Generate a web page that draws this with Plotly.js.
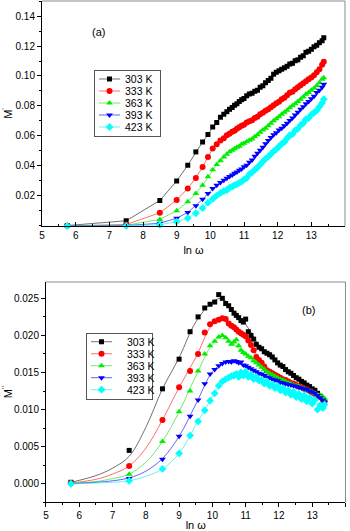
<!DOCTYPE html>
<html>
<head>
<meta charset="utf-8">
<script src="https://cdn.plot.ly/plotly-3.0.1.min.js"></script>
<style>html,body{margin:0;padding:0;background:#fff;}#chart{width:350px;height:531px;}</style>
</head>
<body>
<div id="chart"></div>
<script>
// ---------- data ----------
const seriesNames = ['303 K', '333 K', '363 K', '393 K', '423 K'];
const lnw = [5.75, 7.5, 8.5, 9.0, 9.33, 9.57, 9.77, 9.93, 10.07, 10.19,
  10.3, 10.4, 10.49, 10.57, 10.65, 10.72, 10.79, 10.86, 10.93, 11.0,
  11.08, 11.16, 11.24, 11.32, 11.4, 11.48, 11.56, 11.64, 11.72, 11.8,
  11.88, 11.96, 12.04, 12.12, 12.2, 12.28, 12.36, 12.44, 12.52, 12.6,
  12.68, 12.76, 12.84, 12.92, 13.0, 13.08, 13.16, 13.24, 13.32, 13.37];

// (a) M'
const mp303 = [0.0003, 0.0035, 0.017, 0.030, 0.0405, 0.0494, 0.056, 0.061, 0.066, 0.069,
  0.0725, 0.0745, 0.0762, 0.0778, 0.079, 0.0805, 0.0815, 0.083, 0.0842, 0.085,
  0.0868, 0.088, 0.0885, 0.0898, 0.0905, 0.0925, 0.0935, 0.0955, 0.097, 0.0985,
  0.1012, 0.1025, 0.1035, 0.1045, 0.1055, 0.1065, 0.108, 0.1085, 0.1102, 0.1108,
  0.1125, 0.1135, 0.1158, 0.1165, 0.1178, 0.1195, 0.1205, 0.1222, 0.1235, 0.1255];
const mp333 = [0.0001, 0.001, 0.0088, 0.0173, 0.025, 0.032, 0.0394, 0.046, 0.0516, 0.0545,
  0.057, 0.0585, 0.0605, 0.0615, 0.0628, 0.0635, 0.0648, 0.0658, 0.0668, 0.0675,
  0.069, 0.0698, 0.0705, 0.072, 0.0728, 0.0745, 0.0755, 0.0768, 0.0778, 0.0792,
  0.0805, 0.0818, 0.0828, 0.0845, 0.0855, 0.0872, 0.0888, 0.0895, 0.0912, 0.0925,
  0.0938, 0.0952, 0.0965, 0.0978, 0.099, 0.1005, 0.1025, 0.1045, 0.1075, 0.1095];
const mp363 = [0.0001, 0.0005, 0.0044, 0.0102, 0.0162, 0.0217, 0.0272, 0.0328, 0.0375, 0.041,
  0.0435, 0.046, 0.0478, 0.0495, 0.0505, 0.0515, 0.0525, 0.0532, 0.0545, 0.0552,
  0.0562, 0.0572, 0.058, 0.0595, 0.0608, 0.0625, 0.064, 0.0652, 0.0668, 0.0685,
  0.0702, 0.0715, 0.0728, 0.0745, 0.0758, 0.0772, 0.0789, 0.0802, 0.0815, 0.083,
  0.0845, 0.086, 0.0878, 0.089, 0.0905, 0.0918, 0.0935, 0.0955, 0.0978, 0.0988];
const mp393 = [0.0, 0.0003, 0.0018, 0.0052, 0.009, 0.0135, 0.0178, 0.0217, 0.025, 0.0272,
  0.029, 0.0305, 0.0318, 0.033, 0.034, 0.0352, 0.036, 0.0372, 0.038, 0.0395,
  0.0405, 0.0425, 0.044, 0.0465, 0.0485, 0.0505, 0.0525, 0.0548, 0.057, 0.059,
  0.0608, 0.0622, 0.064, 0.0652, 0.0668, 0.0685, 0.0704, 0.072, 0.074, 0.0758,
  0.0778, 0.0795, 0.0815, 0.083, 0.0848, 0.0865, 0.089, 0.0905, 0.0925, 0.0945];
const mp423 = [0.0, 0.0001, 0.0008, 0.0029, 0.0052, 0.0085, 0.012, 0.0155, 0.018, 0.0203,
  0.022, 0.0232, 0.024, 0.0255, 0.0262, 0.0272, 0.0278, 0.0288, 0.0296, 0.031,
  0.032, 0.0345, 0.0358, 0.0375, 0.039, 0.041, 0.043, 0.0448, 0.0462, 0.048,
  0.0498, 0.0512, 0.053, 0.0548, 0.056, 0.0585, 0.0605, 0.0612, 0.0638, 0.0648,
  0.0672, 0.0685, 0.0712, 0.072, 0.0742, 0.0755, 0.077, 0.0795, 0.082, 0.0845];

// (b) M''
const mpp303 = [0.0002, 0.0045, 0.0128, 0.0168, 0.0205, 0.0225, 0.0237, 0.0242, 0.0245, 0.0255,
  0.0250, 0.0243, 0.0240, 0.0235, 0.0230, 0.0227, 0.0224, 0.0220, 0.0218, 0.0222,
  0.0205, 0.0200, 0.0195, 0.0188, 0.0184, 0.0182, 0.0178, 0.0176, 0.0174, 0.0171,
  0.0167, 0.0163, 0.0160, 0.0158, 0.0154, 0.0151, 0.0149, 0.0146, 0.0143, 0.0141,
  0.0138, 0.0136, 0.0133, 0.0131, 0.0128, 0.0126, 0.0122, 0.0118, 0.0114, 0.0110];
const mpp333 = [0.0001, 0.0024, 0.0086, 0.0130, 0.0152, 0.0175, 0.0204, 0.0215, 0.0219, 0.0221,
  0.0223, 0.0222, 0.0216, 0.0213, 0.0211, 0.0208, 0.0205, 0.0203, 0.0201, 0.0199,
  0.0193, 0.0187, 0.0180, 0.0171, 0.0167, 0.0163, 0.0158, 0.0153, 0.0151, 0.0149,
  0.0147, 0.0145, 0.0143, 0.0141, 0.0140, 0.0138, 0.0136, 0.0135, 0.0133, 0.0131,
  0.0130, 0.0128, 0.0127, 0.0125, 0.0123, 0.0121, 0.0119, 0.0117, 0.0113, 0.0111];
const mpp363 = [0.0001, 0.0013, 0.0057, 0.0097, 0.0125, 0.0152, 0.0175, 0.0186, 0.0192, 0.0198,
  0.0200, 0.0197, 0.0192, 0.0188, 0.0191, 0.0194, 0.0186, 0.0180, 0.0177, 0.0175,
  0.0172, 0.0170, 0.0166, 0.0163, 0.0160, 0.0157, 0.0154, 0.0151, 0.0149, 0.0147,
  0.0145, 0.0143, 0.0141, 0.0140, 0.0138, 0.0136, 0.0135, 0.0133, 0.0132, 0.0131,
  0.0129, 0.0128, 0.0126, 0.0125, 0.0124, 0.0122, 0.0120, 0.0119, 0.0117, 0.0115];
const mpp393 = [0.0000, 0.0007, 0.0033, 0.0064, 0.0091, 0.0113, 0.0135, 0.0148, 0.0154, 0.0159,
  0.0162, 0.0164, 0.0165, 0.0164, 0.0166, 0.0165, 0.0163, 0.0164, 0.0160, 0.0159,
  0.0157, 0.0155, 0.0153, 0.0151, 0.0149, 0.0148, 0.0146, 0.0144, 0.0143, 0.0141,
  0.0140, 0.0139, 0.0137, 0.0136, 0.0135, 0.0134, 0.0133, 0.0132, 0.0131, 0.0130,
  0.0129, 0.0128, 0.0127, 0.0125, 0.0124, 0.0122, 0.0119, 0.0116, 0.0113, 0.0110];
const mpp423 = [0.0000, 0.0004, 0.0020, 0.0041, 0.0065, 0.0084, 0.0099, 0.0112, 0.0122, 0.0132,
  0.0138, 0.0141, 0.0143, 0.0145, 0.0146, 0.0148, 0.0144, 0.0150, 0.0146, 0.0151,
  0.0144, 0.0147, 0.0141, 0.0144, 0.0139, 0.0140, 0.0135, 0.0138, 0.0132, 0.0134,
  0.0129, 0.0132, 0.0126, 0.0129, 0.0123, 0.0126, 0.0120, 0.0124, 0.0117, 0.0121,
  0.0114, 0.0119, 0.0111, 0.0116, 0.0108, 0.0113, 0.0100, 0.0106, 0.0102, 0.0107];

// (b) fitted curves
const fitLnw = [5.75, 6.5, 7.0, 7.5, 8.0, 8.5, 9.0, 9.5, 10.0, 10.3, 10.5, 11.0, 11.5, 12.0, 12.5, 13.0, 13.37];
const fit303 = [0.0002, 0.0011, 0.0021, 0.0037, 0.0076, 0.0128, 0.0170, 0.0218, 0.0245, 0.0250, 0.0240, 0.0215, 0.0180, 0.0160, 0.0143, 0.0128, 0.0110];
const fit333 = [0.0001, 0.0006, 0.0013, 0.0024, 0.0048, 0.0086, 0.0130, 0.0170, 0.0215, 0.0222, 0.0217, 0.0199, 0.0162, 0.0144, 0.0134, 0.0123, 0.0111];
const fit363 = [0.0001, 0.0003, 0.0007, 0.0013, 0.0029, 0.0057, 0.0097, 0.0145, 0.0188, 0.0199, 0.0193, 0.0175, 0.0156, 0.0142, 0.0132, 0.0124, 0.0115];
const fit393 = [0.0000, 0.0002, 0.0004, 0.0008, 0.0017, 0.0034, 0.0064, 0.0107, 0.0151, 0.0162, 0.0165, 0.0159, 0.0148, 0.0137, 0.0131, 0.0124, 0.0110];
const fit423 = [0.0000, 0.0001, 0.0002, 0.0004, 0.0010, 0.0020, 0.0041, 0.0079, 0.0117, 0.0138, 0.0143, 0.0148, 0.0139, 0.0129, 0.0121, 0.0111, 0.0105];

const topTickVals = [0.02, 0.04, 0.06, 0.08, 0.10, 0.12, 0.14];
const botTickVals = [0.000, 0.005, 0.010, 0.015, 0.020, 0.025];

// ---------- styles ----------
const markerColors = ['#000000', '#ff0000', '#00ee00', '#0000ff', '#00ffff'];
const lineColors = ['#333333', '#ff3030', '#30e030', '#2020ff', '#30e8e8'];
const symbols = ['square', 'circle', 'triangle-up', 'triangle-down', 'diamond'];
const sizes = [5, 6, 6, 6, 6];

const topY = [mp303, mp333, mp363, mp393, mp423];
const botY = [mpp303, mpp333, mpp363, mpp393, mpp423];
const fitY = [fit303, fit333, fit363, fit393, fit423];

const traces = [];
for (let i = 0; i < 5; i++) {
  traces.push({
    x: lnw, y: topY[i], xaxis: 'x', yaxis: 'y', type: 'scatter', mode: 'lines+markers',
    name: seriesNames[i], legend: 'legend', cliponaxis: false,
    line: {color: lineColors[i], width: 0.7},
    marker: {color: markerColors[i], symbol: symbols[i], size: sizes[i], line: {width: 0}}
  });
}
for (let i = 0; i < 5; i++) {
  traces.push({
    x: fitLnw, y: fitY[i], xaxis: 'x2', yaxis: 'y2', type: 'scatter', mode: 'lines',
    showlegend: false, line: {color: lineColors[i], width: 0.7, shape: 'spline', smoothing: 1}
  });
}
for (let i = 0; i < 5; i++) {
  traces.push({
    x: lnw, y: botY[i], xaxis: 'x2', yaxis: 'y2', type: 'scatter', mode: 'markers',
    showlegend: false, cliponaxis: false,
    marker: {color: markerColors[i], symbol: symbols[i], size: sizes[i], line: {width: 0}}
  });
}
// legend-only entries for panel (b)
for (let i = 0; i < 5; i++) {
  traces.push({
    x: [null], y: [null], xaxis: 'x2', yaxis: 'y2', type: 'scatter', mode: 'lines+markers',
    name: seriesNames[i], legend: 'legend2',
    line: {color: lineColors[i], width: 0.7},
    marker: {color: markerColors[i], symbol: symbols[i], size: sizes[i], line: {width: 0}}
  });
}

const FONT = 'Liberation Sans, Arial, Helvetica, sans-serif';
const baseAxis = {
  showline: true, linecolor: '#000', linewidth: 1, mirror: false,
  showgrid: false, zeroline: false, tickcolor: '#000', tickwidth: 1,
  tickfont: {family: FONT, size: 10, color: '#000'}, automargin: false
};
const frame = (xr, yr) => [
  {type: 'line', xref: xr + ' domain', yref: yr + ' domain', x0: 0, x1: 1, y0: 1, y1: 1, line: {color: '#8a8a8a', width: 1}},
  {type: 'line', xref: xr + ' domain', yref: yr + ' domain', x0: 1, x1: 1, y0: 0, y1: 1, line: {color: '#8a8a8a', width: 1}}
];
const legendBase = {
  xanchor: 'left', yanchor: 'top', xref: 'paper', yref: 'paper',
  bgcolor: '#ffffff', bordercolor: '#555555', borderwidth: 1,
  font: {family: FONT, size: 10.5, color: '#000'}, itemwidth: 30, tracegroupgap: 0
};

const layout = {
  width: 350, height: 531, margin: {l: 0, r: 0, t: 0, b: 0},
  paper_bgcolor: '#ffffff', plot_bgcolor: '#ffffff',
  font: {family: FONT, size: 10, color: '#000'},
  showlegend: true,
  xaxis: Object.assign({}, baseAxis, {
    domain: [0.12, 0.9857], range: [5, 14], anchor: 'y',
    tickmode: 'linear', tick0: 5, dtick: 1, ticks: 'inside', ticklen: 4,
    minor: {tickmode: 'linear', tick0: 5, dtick: 0.5, ticks: 'inside', ticklen: 2, tickcolor: '#000'},
    title: {text: 'ln ω', font: {family: FONT, size: 11}, standoff: 6}
  }),
  yaxis: Object.assign({}, baseAxis, {
    domain: [0.5744, 0.9981], range: [0, 0.15], anchor: 'x',
    tickmode: 'array', tickvals: topTickVals, tickformat: '.2f', ticks: 'outside', ticklen: 4,
    minor: {tickmode: 'linear', tick0: 0, dtick: 0.01, ticks: 'outside', ticklen: 2, tickcolor: '#000'},
    title: {text: "M<sup>'</sup>", font: {family: FONT, size: 11}, standoff: 4}
  }),
  xaxis2: Object.assign({}, baseAxis, {
    domain: [0.1314, 0.9871], range: [5, 14], anchor: 'y2',
    tickmode: 'linear', tick0: 5, dtick: 1, ticks: 'outside', ticklen: 4,
    minor: {tickmode: 'linear', tick0: 5, dtick: 0.5, ticks: 'outside', ticklen: 2, tickcolor: '#000'},
    title: {text: 'ln ω', font: {family: FONT, size: 11}, standoff: 7}
  }),
  yaxis2: Object.assign({}, baseAxis, {
    domain: [0.054, 0.4689], range: [-0.0025, 0.0272], anchor: 'x2',
    tickmode: 'array', tickvals: botTickVals, tickformat: '.3f', ticks: 'outside', ticklen: 4,
    minor: {tickmode: 'linear', tick0: 0, dtick: 0.0025, ticks: 'outside', ticklen: 2, tickcolor: '#000'},
    title: {text: "M<sup>''</sup>", font: {family: FONT, size: 11}, standoff: 4}
  }),
  legend: Object.assign({}, legendBase, {x: 0.2686, y: 0.8682}),
  legend2: Object.assign({}, legendBase, {x: 0.2457, y: 0.3734}),
  shapes: frame('x', 'y').concat(frame('x2', 'y2')),
  annotations: [
    {text: '(a)', xref: 'paper', yref: 'paper', x: 0.2571, y: 0.9539, showarrow: false, font: {family: FONT, size: 11, color: '#000'}},
    {text: '(b)', xref: 'paper', yref: 'paper', x: 0.9071, y: 0.4162, showarrow: false, font: {family: FONT, size: 11, color: '#000'}}
  ]
};

function tightenLegend(lg, rowH) {
  const items = Array.from(lg.querySelectorAll('g.traces'));
  if (!items.length) return;
  const bw = 1;
  items.forEach((g, i) => {
    const t = g.getAttribute('transform') || '';
    const m = /translate\(\s*([-\d.e]+)[ ,]+([-\d.e]+)\s*\)/.exec(t);
    const x = m ? m[1] : bw;
    g.setAttribute('transform', 'translate(' + x + ',' + (bw + 2 + rowH / 2 + i * rowH) + ')');
    g.querySelectorAll('.legendlines path').forEach(p => p.setAttribute('d', 'M4,0h21'));
    g.querySelectorAll('.legendpoints path').forEach(p => p.setAttribute('transform', 'translate(14.5,0)'));
    const txt = g.querySelector('text.legendtext');
    if (txt) txt.setAttribute('x', 30);
  });
  const bg = lg.querySelector('rect.bg');
  if (bg) {
    bg.setAttribute('height', items.length * rowH + 4 + 2 * bw);
    const w = parseFloat(bg.getAttribute('width'));
    if (!isNaN(w)) bg.setAttribute('width', w - 8);
  }
}

Plotly.newPlot('chart', traces, layout, {staticPlot: true, displayModeBar: false}).then(() => {
  document.querySelectorAll('g.legend, g.legend2').forEach(lg => tightenLegend(lg, 12));
});
</script>
</body>
</html>
